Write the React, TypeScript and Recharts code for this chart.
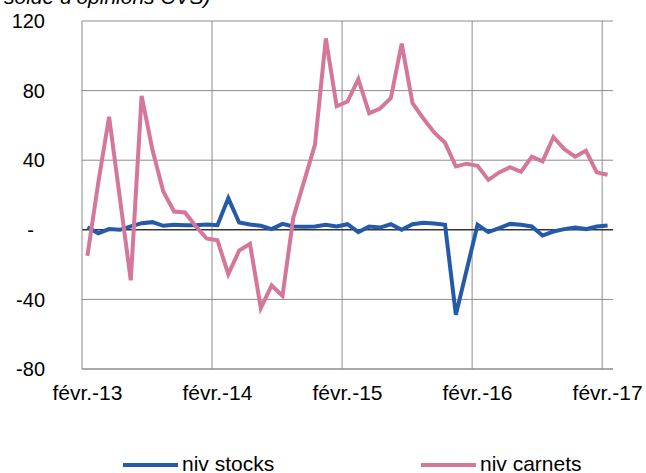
import React from "react";
import { LineChart, Line, XAxis, YAxis, CartesianGrid, ReferenceLine } from "recharts";

// monthly, févr. 2013 -> févr. 2017
const months = [
  "févr.-13", "mars-13", "avr.-13", "mai-13", "juin-13", "juil.-13", "août-13", "sept.-13", "oct.-13", "nov.-13", "déc.-13", "janv.-14",
  "févr.-14", "mars-14", "avr.-14", "mai-14", "juin-14", "juil.-14", "août-14", "sept.-14", "oct.-14", "nov.-14", "déc.-14", "janv.-15",
  "févr.-15", "mars-15", "avr.-15", "mai-15", "juin-15", "juil.-15", "août-15", "sept.-15", "oct.-15", "nov.-15", "déc.-15", "janv.-16",
  "févr.-16", "mars-16", "avr.-16", "mai-16", "juin-16", "juil.-16", "août-16", "sept.-16", "oct.-16", "nov.-16", "déc.-16", "janv.-17",
  "févr.-17",
];

const stocks = [
  1.5, -2, 0.4, 0, 2, 3.8, 4.4, 2.3, 2.9, 2.6, 2.6, 3,
  2.6, 18.2, 4.2, 3, 2.3, 0.4, 3.4, 1.9, 1.7, 1.9, 2.9, 1.9,
  3.2, -1.3, 1.9, 1.3, 3.2, 0, 3.2, 4, 3.6, 2.9, -48.9, -23,
  2.9, -1.3, 1, 3.4, 2.9, 1.9, -3.3, -1, 0.4, 1.3, 0.4, 1.9,
  2.5,
];

const carnets = [
  -15, 27, 65, 18, -29, 77, 46, 22, 10.5, 10, 2, -5,
  -6, -25.5, -12, -8, -45, -32, -38, 7, 28, 49, 110, 71,
  73.7, 86.6, 67, 69.7, 75.7, 107, 72.8, 64, 56, 50, 36.4, 38,
  36.8, 28.7, 33, 36, 33.3, 42, 39.3, 53.3, 46.4, 42, 45.4, 33,
  31.6,
];

const xTicks = [0, 12, 24, 36, 48];
const yTicks = [-80, -40, 0, 40, 80, 120];
const yearBounds = [11.5, 23.5, 35.5, 47.5];

const BLUE = "#245aa8";
const PINK = "#d5769b";
const GRID = "#8c8c8c";
const FONT = "'Liberation Sans', Arial, sans-serif";

const data = months.map((m, i) => ({ i, month: m, stocks: stocks[i], carnets: carnets[i] }));

const legendItems = [
  { name: "niv stocks", color: BLUE },
  { name: "niv carnets", color: PINK },
];

export default function App() {
  return (
    <div style={{ position: "absolute", left: 0, top: 0, width: 646, height: 473, overflow: "hidden", background: "#fff", fontFamily: FONT }}>
      {/* title, cut off at the top like the source */}
      <div style={{ position: "absolute", left: 4, top: -15, fontSize: 21, fontStyle: "italic", color: "#000", whiteSpace: "nowrap" }}>
        solde d’opinions CVS)
      </div>

      <LineChart width={646} height={473} data={data} margin={{ top: 21, right: 33, bottom: 0, left: 0 }}>
        <CartesianGrid vertical={false} stroke={GRID} />
        {yearBounds.map((b) => (
          <ReferenceLine key={b} x={b} stroke={GRID} />
        ))}
        <ReferenceLine y={0} stroke="#000" />
        <XAxis
          type="number"
          dataKey="i"
          domain={[-0.5, 48.5]}
          ticks={xTicks}
          tickFormatter={(v) => months[v]}
          axisLine={{ stroke: GRID }}
          tickLine={false}
          tickSize={0}
          tickMargin={16}
          height={104}
          tick={{ fill: "#000", fontSize: 21, fontFamily: FONT }}
        />
        <YAxis
          domain={[-80, 120]}
          ticks={yTicks}
          tickFormatter={(v) => (v === 0 ? "-\u00a0\u00a0" : String(v))}
          axisLine={{ stroke: GRID }}
          tickLine={false}
          tickSize={0}
          tickMargin={37}
          width={82}
          tick={{ fill: "#000", fontSize: 20, fontFamily: FONT }}
        />
        <Line dataKey="stocks" stroke={BLUE} strokeWidth={4} dot={false} isAnimationActive={false} />
        <Line dataKey="carnets" stroke={PINK} strokeWidth={4} dot={false} isAnimationActive={false} />
      </LineChart>

      {/* Legend */}
      {legendItems.map((item, index) => (
        <div
          key={item.name}
          style={{ position: "absolute", left: 123 + index * 298, top: 452, display: "flex", alignItems: "center", fontSize: 21, color: "#000" }}
        >
          <div style={{ width: 55, height: 4, background: item.color, marginRight: 4, marginTop: 2 }}></div>
          <span style={{ lineHeight: "24px" }}>{item.name}</span>
        </div>
      ))}
    </div>
  );
}
